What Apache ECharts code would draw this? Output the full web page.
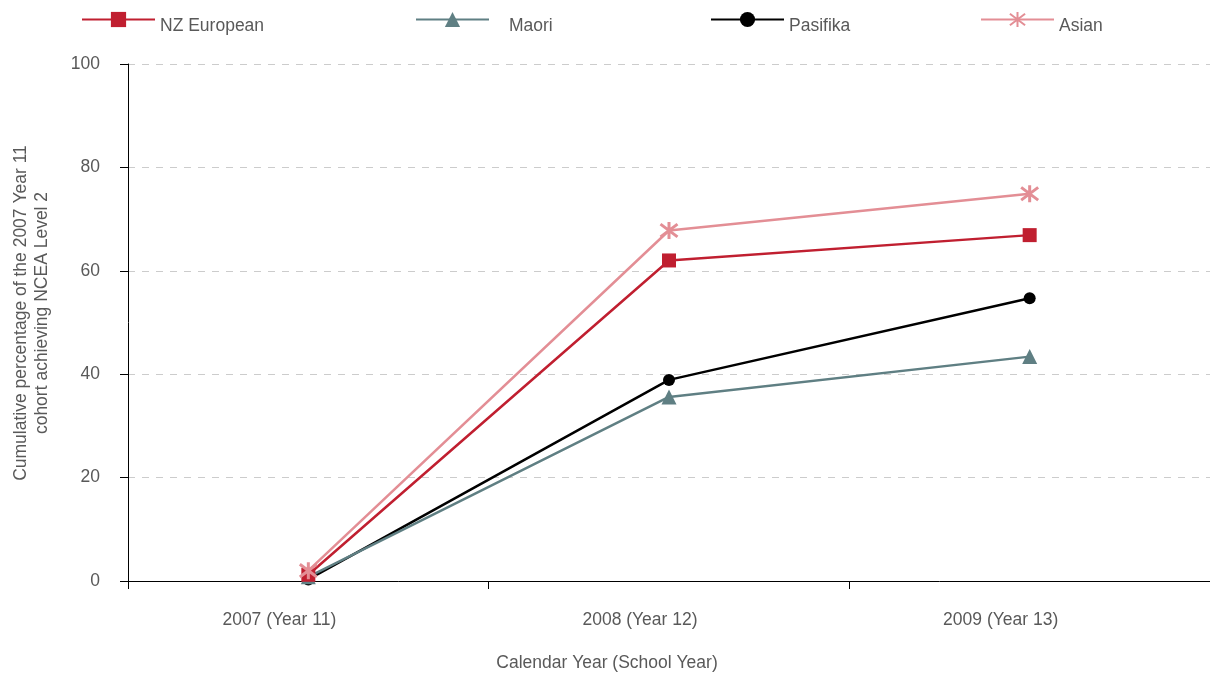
<!DOCTYPE html>
<html>
<head>
<meta charset="utf-8">
<script src="https://cdn.jsdelivr.net/npm/echarts@6/dist/echarts.min.js"></script>
<style>
  html, body { margin: 0; padding: 0; background: #ffffff; }
  #chart { width: 1210px; height: 677px; }
</style>
</head>
<body>
<div id="chart"></div>
<script>
// Calendar years (school years) on the category axis
const years = ['2007 (Year 11)', '2008 (Year 12)', '2009 (Year 13)'];

// Cumulative % of the 2007 Year 11 cohort achieving NCEA Level 2
const nzEuropean = [1.2, 62.0, 66.9];
const maori = [0.8, 35.6, 43.4];
const pasifika = [0.3, 38.9, 54.7];
const asian = [2.0, 67.8, 74.9];

const TEXT = '#595959';
const FONT = 'Liberation Sans, Arial, sans-serif';
const FS = 17.5;

// asterisk marker: vertical stroke plus two diagonals
const asterisk = 'path://M10 0L10 20M2.5 2.5L17.5 17.5M17.5 2.5L2.5 17.5';

function lineSeries(name, data, color, symbol, size, extra) {
  return Object.assign({
    name: name,
    type: 'line',
    data: data,
    symbol: symbol,
    symbolSize: size,
    lineStyle: { color: color, width: 2.5 },
    itemStyle: { color: color },
    emphasis: { disabled: true },
    animation: false
  }, extra || {});
}

function legendAt(name, left, textPadLeft) {
  return {
    data: [name],
    left: left,
    top: 4,
    padding: 0,
    itemWidth: 73,
    itemHeight: 19,
    formatter: '{t|{name}}',
    textStyle: {
      rich: {
        t: {
          color: TEXT,
          fontSize: FS,
          fontFamily: FONT,
          lineHeight: 20,
          padding: [13, 0, 0, textPadLeft]
        }
      }
    }
  };
}

const chart = echarts.init(document.getElementById('chart'));
chart.setOption({
  backgroundColor: '#ffffff',
  textStyle: { fontFamily: FONT },
  legend: [
    legendAt('NZ European', 81, 0),
    legendAt('Maori', 415, 15),
    legendAt('Pasifika', 710, 0),
    legendAt('Asian', 980, 0)
  ],
  grid: { left: 128, right: -1, top: 64, bottom: 94, containLabel: false },
  xAxis: {
    type: 'category',
    data: years,
    boundaryGap: true,
    axisLine: { lineStyle: { color: '#000', width: 1 } },
    axisTick: { show: true, length: 8, alignWithLabel: false, lineStyle: { color: '#000' } },
    axisLabel: { color: TEXT, fontSize: FS, margin: 30, padding: [0, 58, 0, 0] },
    name: 'Calendar Year (School Year)',
    nameLocation: 'middle',
    nameGap: 73,
    nameTextStyle: { color: TEXT, fontSize: FS, padding: [0, 124, 0, 0] }
  },
  yAxis: {
    type: 'value',
    min: 0,
    max: 100,
    interval: 20,
    axisLine: { show: true, lineStyle: { color: '#000', width: 1 } },
    axisTick: { show: true, length: 8, lineStyle: { color: '#000' } },
    axisLabel: { color: TEXT, fontSize: FS, margin: 28 },
    splitLine: { show: true, lineStyle: { color: '#cccccc', type: [7, 7], width: 1 } }
  },
  graphic: [{
    type: 'text',
    x: 32,
    y: 313,
    rotation: Math.PI / 2,
    style: {
      text: 'Cumulative percentage of the 2007 Year 11\ncohort achieving NCEA Level 2',
      fill: TEXT,
      font: FS + 'px ' + FONT,
      textAlign: 'center',
      textVerticalAlign: 'middle',
      lineHeight: 21
    }
  }],
  series: [
    lineSeries('Pasifika', pasifika, '#000000', 'circle', 12, { z: 2 }),
    lineSeries('Maori', maori, '#5f7f83', 'triangle', 15, { z: 3 }),
    lineSeries('NZ European', nzEuropean, '#c01f30', 'rect', 14, { z: 4 }),
    lineSeries('Asian', asian, '#e38e95', asterisk, 17, {
      z: 5,
      itemStyle: { color: 'none', borderColor: '#e38e95', borderWidth: 3 }
    })
  ]
});
</script>
</body>
</html>
